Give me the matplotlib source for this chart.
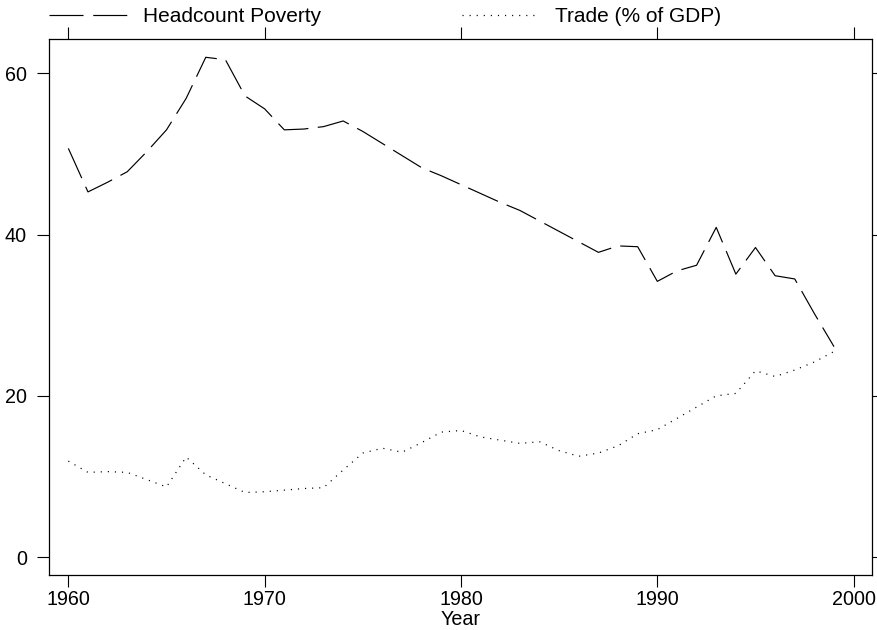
import matplotlib
matplotlib.use("Agg")
import matplotlib.pyplot as plt
from matplotlib.lines import Line2D

plt.rcParams['font.family'] = ['Liberation Sans', 'DejaVu Sans']
plt.rcParams['lines.scale_dashes'] = False

years = list(range(1960, 2000))
poverty = [50.7, 45.3, 46.5, 47.8, 50.3, 53.0, 56.9, 62.0, 61.7, 57.2,
           55.6, 53.0, 53.1, 53.4, 54.1, 52.8, 51.3, 49.8, 48.3, 47.3,
           46.2, 45.1, 44.0, 43.0, 41.7, 40.4, 39.1, 37.8, 38.6, 38.5,
           34.2, 35.5, 36.2, 40.9, 35.1, 38.4, 34.9, 34.5, 30.2, 26.1]
trade = [11.9, 10.5, 10.6, 10.5, 9.6, 8.7, 12.4, 10.2, 9.1, 8.0,
         8.1, 8.3, 8.5, 8.6, 10.8, 12.9, 13.5, 13.0, 14.2, 15.5,
         15.7, 14.9, 14.5, 14.1, 14.3, 13.2, 12.5, 12.9, 13.8, 15.3,
         15.8, 17.2, 18.6, 20.0, 20.3, 23.1, 22.4, 23.2, 24.2, 25.5]
series_labels = ["Headcount Poverty", "Trade (% of GDP)"]
xticks = [1960, 1970, 1980, 1990, 2000]
yticks = [0, 20, 40, 60]
xlabel = "Year"

W, H = 877, 630
fig = plt.figure(figsize=(W / 100, H / 100), dpi=100)
ax = fig.add_axes([49.3 / W, 1 - 575 / H, (872.3 - 49.3) / W, (575 - 39) / H])

DASH = (23.5, 6.8)
DOT = (0.8, 4.3)
ax.plot(years, poverty, color='black', lw=0.85, dashes=DASH)
ax.plot(years, trade, color='black', lw=0.9, dashes=DOT)

ax.set_xlim(1959.03, 2000.95)
ax.set_ylim(-2.23, 64.27)
ax.set_xticks(xticks)
ax.set_yticks(yticks)
ax.tick_params(axis='both', direction='out', length=8.6, width=0.8,
               labelsize=14.2, top=True, right=True, color='black')
ax.tick_params(axis='x', pad=2.5)
ax.tick_params(axis='y', pad=7.5)
for s in ax.spines.values():
    s.set_linewidth(0.9)
ax.set_xlabel(xlabel, fontsize=14.2, labelpad=0.5)

# legend (Stata style, above the plot)
def fx(px):
    return px / W

def fy(py):
    return 1 - py / H

ly = fy(15)
fig.add_artist(Line2D([fx(49), fx(128)], [ly, ly], color='black', lw=0.85,
                      dashes=(24.5, 7.0), transform=fig.transFigure))
fig.text(fx(143), fy(22), series_labels[0], fontsize=15, va='baseline', ha='left')
fig.add_artist(Line2D([fx(462), fx(538)], [ly, ly], color='black', lw=0.9,
                      dashes=DOT, transform=fig.transFigure))
fig.text(fx(555), fy(22), series_labels[1], fontsize=15, va='baseline', ha='left')

fig.savefig("out.png", dpi=100)
